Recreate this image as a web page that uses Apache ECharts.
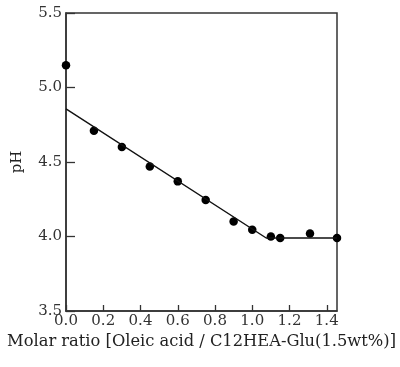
<!DOCTYPE html>
<html>
<head>
<meta charset="utf-8">
<script src="https://cdn.jsdelivr.net/npm/echarts@6/dist/echarts.min.js"></script>
<style>
  html, body { margin: 0; padding: 0; background: #fff; }
  #main { width: 400px; height: 367px; }
</style>
</head>
<body>
<div id="main"></div>
<script>
// measured points
var molarRatio = [0, 0.15, 0.30, 0.45, 0.60, 0.75, 0.90, 1.00, 1.10, 1.15, 1.31, 1.455];
var phValues = [5.15, 4.71, 4.60, 4.47, 4.37, 4.245, 4.10, 4.045, 4.00, 3.99, 4.02, 3.99];
// fitted line (two segments)
var fitX = [0, 1.075, 1.455];
var fitY = [4.856, 3.99, 3.99];

function pairs(xs, ys) {
    return xs.map(function (x, i) { return [x, ys[i]]; });
}

var font = 'DejaVu Serif';
var ec = echarts.init(document.getElementById('main'));
ec.setOption({
    animation: false,
    grid: {
        left: 66, top: 13, width: 271, height: 298,
        outerBoundsMode: 'none', containLabel: false,
        show: true, borderColor: '#333', borderWidth: 1.5, backgroundColor: 'transparent'
    },
    xAxis: {
        type: 'value',
        min: 0, max: 1.455, interval: 0.2,
        name: 'Molar ratio [Oleic acid / C12HEA-Glu(1.5wt%)]',
        nameLocation: 'middle', nameGap: 14,
        nameTextStyle: { fontFamily: font, fontSize: 16.3, color: '#222' },
        axisLine: { lineStyle: { color: '#333', width: 1.5 } },
        axisTick: { inside: true, length: 6, lineStyle: { color: '#333', width: 1.3 } },
        axisLabel: {
            margin: 3, fontFamily: font, fontSize: 15, color: '#333',
            showMaxLabel: false,
            formatter: function (v) { return v.toFixed(1); }
        },
        splitLine: { show: false }
    },
    yAxis: {
        type: 'value',
        min: 3.5, max: 5.5, interval: 0.5,
        name: 'pH',
        nameLocation: 'middle', nameGap: 41, nameRotate: 90,
        nameTextStyle: { fontFamily: font, fontSize: 15, color: '#222' },
        axisLine: { lineStyle: { color: '#333', width: 1.5 } },
        axisTick: { inside: true, length: 9, lineStyle: { color: '#333', width: 1.3 } },
        axisLabel: {
            margin: 4, fontFamily: font, fontSize: 15, color: '#333',
            formatter: function (v) { return v.toFixed(1); }
        },
        splitLine: { show: false }
    },
    series: [
        {
            type: 'line',
            data: pairs(fitX, fitY),
            symbol: 'none',
            lineStyle: { color: '#111', width: 1.4 },
            clip: false
        },
        {
            type: 'scatter',
            data: pairs(molarRatio, phValues),
            symbol: 'circle',
            symbolSize: 8.5,
            itemStyle: { color: '#000', opacity: 1 },
            clip: false
        }
    ]
});
</script>
</body>
</html>
